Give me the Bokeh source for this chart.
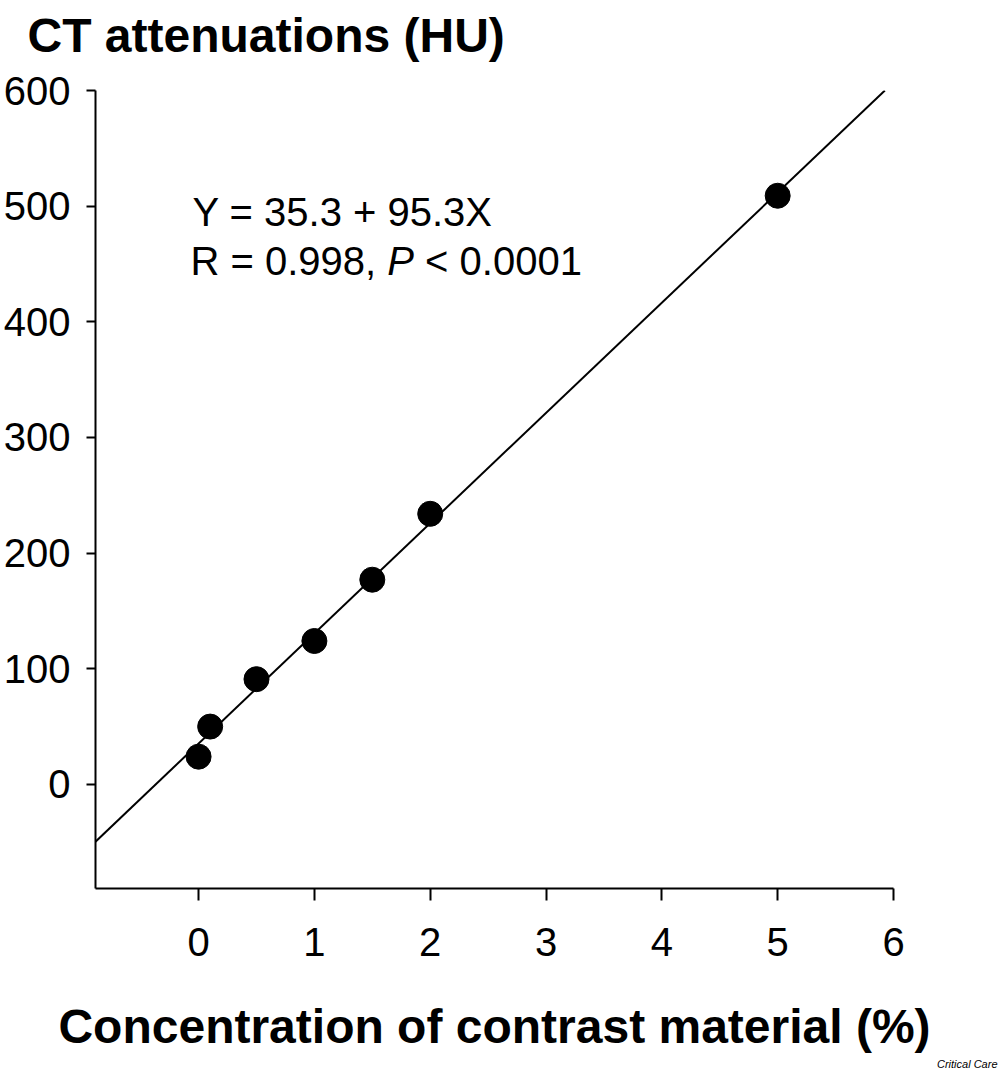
from bokeh.plotting import figure
from bokeh.models import Range1d, FixedTicker, Label, Title
from bokeh.embed import file_html
from bokeh.resources import INLINE

# ---- data ----
concentration = [0.0, 0.1, 0.5, 1.0, 1.5, 2.0, 5.0]       # contrast material (%)
attenuation = [24, 50, 91, 124, 177, 234, 509]            # CT attenuation (HU)
fit_intercept = 35.3
fit_slope = 95.3
x_ticks = [0, 1, 2, 3, 4, 5, 6]
y_ticks = [0, 100, 200, 300, 400, 500, 600]
x_min, x_max = -0.89, 6.0
y_min, y_max = -90.0, 600.0

title_text = "CT attenuations (HU)"
xlabel_text = "Concentration of contrast material (%)"
eq_line1 = "Y = 35.3 + 95.3X"
eq_line2a = "R = 0.998,"
eq_line2b = "P"
eq_line2c = "< 0.0001"
source_text = "Critical Care"

FONT = "Liberation Sans"

# ---- layout (pixels) ----
SHIFT = 30                       # canvas starts SHIFT px above the page top
W, H = 1000, 1069 + SHIFT
BL, BR, BT, BB = 95, 107, 90 + SHIFT, 181
FRAME_W = W - BL - BR
FRAME_H = H - BT - BB
PAGE_FRAME_TOP = 90


def dx(px):
    return x_min + (px - BL) / FRAME_W * (x_max - x_min)


def dy(py):
    return y_max - (py - PAGE_FRAME_TOP) / FRAME_H * (y_max - y_min)


p = figure(width=W, height=H,
           x_range=Range1d(x_min, x_max), y_range=Range1d(y_min, y_max),
           output_backend="svg", toolbar_location=None,
           min_border_left=BL, min_border_right=BR,
           min_border_top=BT, min_border_bottom=BB)
p.styles = {"margin-top": f"-{SHIFT}px"}
p.outline_line_color = None
p.grid.visible = False
p.background_fill_color = "white"
p.border_fill_color = "white"

# title (y quantity) at top-left
p.title = Title(text=title_text, text_font=FONT, text_font_size="48px",
                text_font_style="bold", text_color="black", align="left",
                vertical_align="bottom", offset=-68, standoff=57)

# regression line across the frame, from the fitted equation
x_end = (y_max - fit_intercept) / fit_slope
line_x = [x_min, x_end]
line_y = [fit_intercept + fit_slope * v for v in line_x]
p.line(line_x, line_y, line_color="black", line_width=2)

p.scatter(concentration, attenuation, size=25, fill_color="black", line_color="black")

for ax in (p.xaxis[0], p.yaxis[0]):
    ax.axis_line_color = "black"
    ax.axis_line_width = 2
    ax.major_tick_line_color = "black"
    ax.major_tick_line_width = 2
    ax.major_tick_in = 0
    ax.minor_tick_line_color = None
    ax.major_label_text_font = FONT
    ax.major_label_text_font_size = "40px"
    ax.major_label_text_font_style = "normal"
    ax.major_label_text_color = "black"

p.xaxis.ticker = FixedTicker(ticks=x_ticks)
p.yaxis.ticker = FixedTicker(ticks=y_ticks)
p.xaxis.major_tick_out = 12
p.yaxis.major_tick_out = 9
p.xaxis.major_label_standoff = 27
p.yaxis.major_label_standoff = 16

p.xaxis.axis_label = xlabel_text
p.xaxis.axis_label_text_font = FONT
p.xaxis.axis_label_text_font_size = "48px"
p.xaxis.axis_label_text_font_style = "bold"
p.xaxis.axis_label_text_color = "black"
p.xaxis.axis_label_standoff = 41

# source tag under the axis label
p.add_layout(Title(text=source_text, text_font=FONT, text_font_size="11px",
                   text_font_style="italic", text_color="black", align="right",
                   offset=-104, standoff=0), "below")

# regression equation
EQ = 40
w_a = 4.92 * EQ
w_b = 0.667 * EQ + 0.278 * EQ
p.add_layout(Label(x=dx(192), y=dy(211), text=eq_line1, text_font=FONT,
                   text_font_size=f"{EQ}px", text_align="left",
                   text_baseline="alphabetic", text_color="black"))
p.add_layout(Label(x=dx(190), y=dy(260), text=eq_line2a, text_font=FONT,
                   text_font_size=f"{EQ}px", text_align="left",
                   text_baseline="alphabetic", text_color="black"))
p.add_layout(Label(x=dx(190 + w_a), y=dy(260), text=eq_line2b, text_font=FONT,
                   text_font_size=f"{EQ}px", text_font_style="italic", text_align="left",
                   text_baseline="alphabetic", text_color="black"))
p.add_layout(Label(x=dx(190 + w_a + w_b), y=dy(260), text=eq_line2c, text_font=FONT,
                   text_font_size=f"{EQ}px", text_align="left",
                   text_baseline="alphabetic", text_color="black"))

open("out.html", "w").write(file_html(p, INLINE))
